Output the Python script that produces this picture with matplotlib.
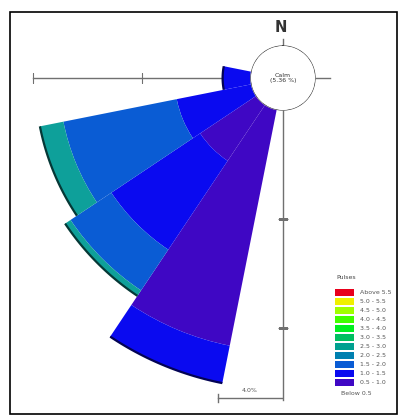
import numpy as np
import matplotlib
matplotlib.use("Agg")
import matplotlib.pyplot as plt
from matplotlib.patches import Rectangle

# wind rose data (frequency in %)
directions = [270.0, 247.5, 225.0, 202.5]   # W, WSW, SW, SSW
class_names = ["0.5 - 1.0", "1.0 - 1.5", "1.5 - 2.0", "2.0 - 2.5"]
freq = {
    "0.5 - 1.0": [0.0, 0.0, 3.1, 11.05],
    "1.0 - 1.5": [1.3, 3.5, 4.9, 1.75],
    "1.5 - 2.0": [0.0, 5.3, 2.25, 0.0],
    "2.0 - 2.5": [0.0, 1.1, 0.3, 0.0],
}
ring_ticks = [5, 10]
calm_text = "Calm\n(5.36 %)"
scale_text = "4.0%"

legend_title = "Pulses"
legend_labels = ["Above 5.5", "5.0 - 5.5", "4.5 - 5.0", "4.0 - 4.5", "3.5 - 4.0",
                 "3.0 - 3.5", "2.5 - 3.0", "2.0 - 2.5", "1.5 - 2.0", "1.0 - 1.5",
                 "0.5 - 1.0"]
legend_colors = ["#e8001c", "#f0f000", "#a0ff00", "#40ff00", "#00f020", "#00c060",
                 "#00a090", "#0080b0", "#0a5cd4", "#0a0af0", "#3f07c4"]
below_label = "Below 0.5"
class_colors = {
    "0.5 - 1.0": "#3f07c4",
    "1.0 - 1.5": "#0a0af0",
    "1.5 - 2.0": "#0a5cd4",
    "2.0 - 2.5": "#0ea09a",
}

W, H = 400, 419
fig = plt.figure(figsize=(W / 100, H / 100), dpi=100)

# rose axes placed so the centre sits where the original has it
cx, cy = 283, 78
px_per = 21.8
calm_r = 1.47
rmax = 15
R = (rmax + calm_r) * px_per
ax = fig.add_axes([(cx - R) / W, (H - cy - R) / H, 2 * R / W, 2 * R / H], projection="polar")
ax.set_theta_zero_location("N")
ax.set_theta_direction(-1)
ax.set_rlim(0, rmax)
ax.set_rorigin(-calm_r)
ax.axis("off")

theta = np.deg2rad(directions)
width = np.deg2rad(22.5)
bottom = np.zeros(len(directions))
for name in class_names:
    vals = np.array(freq[name])
    ax.bar(theta, vals, width=width, bottom=bottom, color=class_colors[name],
           edgecolor="none", zorder=2)
    bottom = bottom + vals

# dark outer rim of each petal
for i, (th, top) in enumerate(zip(theta, bottom)):
    last = [n for n in class_names if freq[n][i] > 0][-1]
    rgb = np.array(matplotlib.colors.to_rgb(class_colors[last])) * 0.35
    arc = np.linspace(th - width / 2, th + width / 2, 30)
    ax.plot(arc, np.full_like(arc, top), color=rgb, lw=1.6, zorder=3,
            solid_capstyle="butt")

# axis lines with ticks
axis_col = "#707070"
ax.plot([np.deg2rad(270)] * 2, [0, ring_ticks[-1]], color=axis_col, lw=1.0, zorder=1)
ax.plot([np.deg2rad(180)] * 2, [0, 13.3], color=axis_col, lw=1.0, zorder=4)
ax.plot([np.deg2rad(90)] * 2, [0, 0.7], color=axis_col, lw=1.0, zorder=1)
ax.plot([0, 0], [0, 0.3], color=axis_col, lw=1.0, zorder=1)
ax.plot([np.deg2rad(270)] * len(ring_ticks), ring_ticks, ls="none", marker="|",
        ms=7, mew=0.8, color=axis_col, zorder=4)
ax.plot([np.deg2rad(180)] * len(ring_ticks), ring_ticks, ls="none", marker="_",
        ms=7, mew=0.8, color=axis_col, zorder=4)

# calm circle
circ = np.linspace(0, 2 * np.pi, 200)
ax.fill(circ, np.zeros_like(circ), color="white", zorder=5)
ax.plot(circ, np.zeros_like(circ), color="#333333", lw=0.8, zorder=6)

# overlay in pixel coordinates for the annotations
ov = fig.add_axes([0, 0, 1, 1])
ov.set_xlim(0, W)
ov.set_ylim(H, 0)
ov.axis("off")
ov.patch.set_alpha(0)

ov.text(cx, cy, calm_text, ha="center", va="center", fontsize=4.5,
        color="#333333", linespacing=1.2)
ov.text(281, 27, "N", ha="center", va="center", fontsize=10.5, color="#333333",
        fontweight="bold")

# scale bar
ov.plot([218, 282], [398, 398], color=axis_col, lw=1.0)
ov.plot([218, 218], [394, 402], color=axis_col, lw=1.0)
ov.text(250, 390, scale_text, ha="center", va="center", fontsize=4.5, color="#555555")

# legend
ov.text(336, 277, legend_title, ha="left", va="center", fontsize=4.5, color="#444444")
for i, (lab, col) in enumerate(zip(legend_labels, legend_colors)):
    y = 292 + i * 9
    ov.add_patch(Rectangle((335, y - 3.5), 19, 7, color=col, lw=0))
    ov.text(360, y, lab, ha="left", va="center", fontsize=4.5, color="#555555")
ov.text(341, 393, below_label, ha="left", va="center", fontsize=4.5, color="#555555")

# frame
ov.add_patch(Rectangle((10, 12), 387, 402, fill=False, edgecolor="black", lw=1.2))

fig.savefig("out.png", dpi=100)
